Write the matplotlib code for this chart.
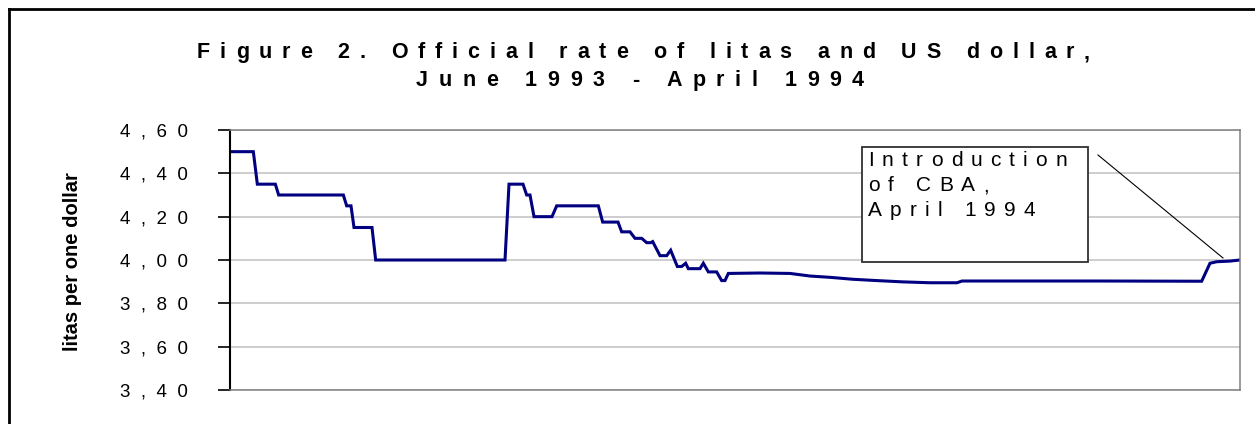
import matplotlib
matplotlib.use("Agg")
import matplotlib.pyplot as plt
from matplotlib.lines import Line2D
from matplotlib.patches import Rectangle
from matplotlib.font_manager import FontProperties, findfont, get_font

plt.rcParams["font.family"] = ["Liberation Sans", "DejaVu Sans"]

# days since 1 June 1993 (approx.) and official rate, litas per USD
days = [0, 7.0, 8.2, 13.6, 14.6, 34.0, 35.0, 36.3, 37.2, 42.6, 43.7, 82.5, 83.7,
        87.9, 89.0, 90.0, 91.2, 96.6, 98.0, 110.5, 111.8, 116.4, 117.5, 120.0,
        121.5, 123.5, 125.0, 126.2, 126.8, 129.0, 131.0, 132.2, 134.2, 135.5,
        136.7, 137.5, 141.0, 142.0, 143.5, 146.0, 147.5, 148.5, 149.5, 159.0,
        168.0, 174.0, 180.0, 186.9, 194.1, 201.9, 210.0, 218.1, 219.6, 228.0,
        243.0, 261.0, 291.5, 294.0, 296.0, 300.0, 303.0]
rate = [4.50, 4.50, 4.35, 4.35, 4.30, 4.30, 4.25, 4.25, 4.15, 4.15, 4.00, 4.00, 4.35,
        4.35, 4.30, 4.30, 4.20, 4.20, 4.25, 4.25, 4.175, 4.175, 4.13, 4.13,
        4.10, 4.10, 4.08, 4.08, 4.085, 4.02, 4.02, 4.045, 3.97, 3.97,
        3.985, 3.96, 3.96, 3.985, 3.945, 3.945, 3.905, 3.905, 3.938, 3.94,
        3.938, 3.926, 3.92, 3.911, 3.905, 3.899, 3.895, 3.895, 3.903, 3.903,
        3.903, 3.903, 3.902, 3.985, 3.992, 3.995, 4.00]

y_ticks = [3.40, 3.60, 3.80, 4.00, 4.20, 4.40, 4.60]
y_tick_labels = ["3,40", "3,60", "3,80", "4,00", "4,20", "4,40", "4,60"]

title_lines = ["Figure 2. Official rate of litas and US dollar,", "June 1993 - April 1994"]
note_lines = ["Introduction", "of CBA,", "April 1994"]

W, H = 1255, 424
DPI = 100


def spaced(text, gap="  "):
    """Fake letter spacing for tick labels by padding with spaces."""
    return gap.join(text)


def advances(text, size, weight):
    font = get_font(findfont(FontProperties(family="Liberation Sans", weight=weight)))
    font.set_size(size, DPI)
    out = []
    for c in text:
        g = font.load_char(ord(c))
        out.append(g.linearHoriAdvance / 65536)
    return out


def letter_spaced(fig, x_px, base_px, text, size, weight="normal", width_px=None,
                  spacing_px=None, **kw):
    """Draw text char by char (Word-style expanded spacing)."""
    adv = advances(text, size, weight)
    if spacing_px is None:
        spacing_px = (width_px - sum(adv)) / (len(text) - 1)
    x = x_px
    for c, a in zip(text, adv):
        if c != " ":
            fig.text(x / W, 1 - base_px / H, c, fontsize=size, fontweight=weight,
                     ha="left", va="baseline", **kw)
        x += a + spacing_px
    return spacing_px


fig = plt.figure(figsize=(W / DPI, H / DPI), dpi=DPI)
ax = fig.add_axes([230 / W, 1 - 390 / H, (1240 - 230) / W, (390 - 130) / H])

ax.plot(days, rate, color="#000080", linewidth=2.2, solid_joinstyle="miter")

ax.set_xlim(0, 303)
ax.set_ylim(3.40, 4.60)
ax.set_xticks([])
ax.set_yticks(y_ticks)
ax.set_yticklabels([spaced(t) for t in y_tick_labels], fontsize=13.5)
ax.tick_params(axis="y", direction="out", length=9, width=1.2, color="black", pad=21)
ax.grid(axis="y", color="#c0c0c0", linewidth=1.1)
ax.set_axisbelow(True)

for side in ["top", "right", "bottom"]:
    ax.spines[side].set_color("#808080")
    ax.spines[side].set_linewidth(1.1)
ax.spines["left"].set_color("black")
ax.spines["left"].set_linewidth(1.5)

# y-axis label
fig.text(72 / W, 1 - 262 / H, "litas per one dollar", rotation=90, ha="center", va="center",
         fontsize=14.5, fontweight="bold")

# title, expanded letter spacing
letter_spaced(fig, 197, 58, title_lines[0], 15.5, "bold", width_px=893)
letter_spaced(fig, 416, 86, title_lines[1], 15.5, "bold", width_px=448)

# annotation box and pointer line
fig.add_artist(Rectangle((862 / W, 1 - 262 / H), (1088 - 862) / W, (262 - 147) / H,
                         transform=fig.transFigure, facecolor="white",
                         edgecolor="#303030", linewidth=1.3, zorder=5))
sp = letter_spaced(fig, 868, 166.5, note_lines[0], 15, width_px=199, zorder=6)
letter_spaced(fig, 868, 191.5, note_lines[1], 15, spacing_px=sp, zorder=6)
letter_spaced(fig, 868, 216, note_lines[2], 15, spacing_px=sp, zorder=6)
fig.add_artist(Line2D([1098 / W, 1223 / W], [1 - 155 / H, 1 - 258 / H],
                      transform=fig.transFigure, color="black", linewidth=0.8))

# outer frame (runs off the right/bottom edge)
fig.add_artist(Line2D([9 / W, 9 / W], [-0.1, 1 - 9 / H], transform=fig.transFigure,
                      color="black", linewidth=2))
fig.add_artist(Line2D([9 / W, 1.1], [1 - 9 / H, 1 - 9 / H], transform=fig.transFigure,
                      color="black", linewidth=2))

fig.savefig("out.png", dpi=DPI)
